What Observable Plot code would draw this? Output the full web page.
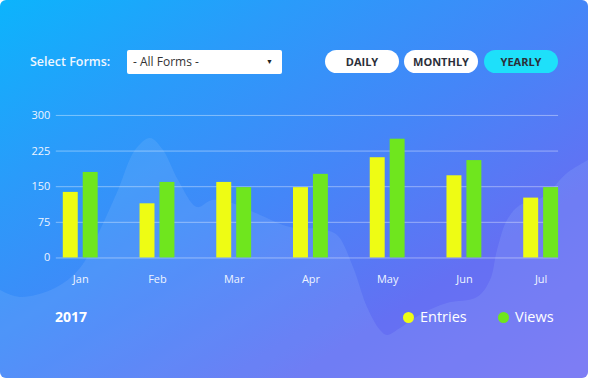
<!DOCTYPE html>
<html><head><meta charset="utf-8">
<script src="https://cdn.jsdelivr.net/npm/d3@7"></script>
<script src="https://cdn.jsdelivr.net/npm/@observablehq/plot@0.6"></script>
<style>
html,body{margin:0;padding:0;background:#fff;}
body{width:590px;height:381px;overflow:hidden;font-family:"Open Sans",sans-serif;}
#card{position:relative;width:588px;height:378px;border-radius:6px;overflow:hidden;
 background:linear-gradient(to bottom right,#0cb4fc 0%,#2a9bfa 25%,#4486f8 50%,#6470f3 75%,#7670f3 100%);}
#wave,#chart{position:absolute;left:0;}
#wave{top:0}
#chart{top:100px}
.abs{position:absolute;}
#selLabel{left:30px;top:53px;line-height:18px;font-size:12.5px;font-weight:600;color:#eef6ff;}
#dropdown{left:127px;top:50px;width:155px;height:24px;background:#fff;border-radius:2px;}
#dropdown span{position:absolute;left:6px;top:0;line-height:24px;font-size:12px;color:#333;}
#dropdown i{position:absolute;right:9px;top:0;line-height:24px;font-size:7px;font-style:normal;color:#222;}
.btn{top:50px;width:74px;height:23px;border-radius:12px;background:#fff;text-align:center;line-height:23px;font-size:11px;font-weight:700;color:#2b2f3a;}
#yearly{background:#1ee0fa;}
#year{left:55px;top:307px;font-size:14px;font-weight:700;color:#fff;line-height:20px;}
.leg{top:307px;line-height:20px;font-size:14.5px;color:#fff;}
.dot{display:inline-block;width:11px;height:11px;border-radius:50%;margin-right:6px;vertical-align:-1px;}
</style>
</head><body>
<div id="card">
 <div id="wave"></div>
 <div id="chart"></div>
 <div id="selLabel" class="abs">Select Forms:</div>
 <div id="dropdown" class="abs"><span>- All Forms -</span><i>▼</i></div>
 <div id="daily" class="abs btn" style="left:325px">DAILY</div>
 <div id="monthly" class="abs btn" style="left:404px">MONTHLY</div>
 <div id="yearly" class="abs btn" style="left:484px">YEARLY</div>
 <div id="year" class="abs">2017</div>
 <div id="legend"></div>
</div>
<script>
const months = ["Jan","Feb","Mar","Apr","May","Jun","Jul"];
const entries = [138,114,159,148,211,173,126];
const views = [180,159,148,176,250,205,148];
const yTicks = [0,75,150,225,300];
const seriesNames = ["Entries","Views"];
const seriesColors = ["#eefc14","#6fe61e"];

// decorative background wave (card pixel units)
const waveX = [0,20,55,80,100,118,135,150,163,178,197,212,232,260,290,320,337,353,367,380,387,400,423,447,477,490,497,507,520,543,567,588];
const waveY = [290,297,288,268,230,190,150,138,150,180,207,200,203,215,227,229,235,267,307,330,335,328,313,303,297,280,250,220,205,197,173,160];

const rows = months.map((m,i)=>({month:m, entries:entries[i], views:views[i]}));

const wave = Plot.plot({
  width:588, height:378, margin:0,
  style:{background:"transparent"},
  x:{domain:[0,588], range:[0,588], axis:null},
  y:{domain:[0,378], range:[0,378], axis:null},
  marks:[
    Plot.areaY(waveX,{x:d=>d, y1:378, y2:(d,i)=>waveY[i], curve:"catmull-rom", fill:"#b8dcff", fillOpacity:0.13})
  ]
});
document.getElementById("wave").append(wave);

const chart = Plot.plot({
  width:590, height:200, marginTop:15, marginBottom:42, marginLeft:56, marginRight:30,
  style:{background:"transparent", color:"#eef4ff", fontFamily:"Open Sans", fontSize:"11px"},
  x:{domain:months, range:[21,602], padding:42/77, label:null},
  y:{domain:[0,300], label:null},
  marks:[
    Plot.ruleY(yTicks,{stroke:"white", strokeOpacity:0.4}),
    Plot.barY(rows,{x:"month", y:"entries", fill:seriesColors[0], insetRight:20}),
    Plot.barY(rows,{x:"month", y:"views", fill:seriesColors[1], insetLeft:20}),
    Plot.axisX({tickSize:0, tickPadding:17, label:null, fontSize:11}),
    Plot.axisY(yTicks,{tickSize:0, tickPadding:6, label:null, fontSize:11})
  ]
});
document.getElementById("chart").append(chart);

const legendX = [403, 498];
const legend = document.getElementById("legend");
seriesNames.forEach((n,i)=>{
  const d = document.createElement("div");
  d.className = "abs leg";
  d.style.left = legendX[i] + "px";
  d.innerHTML = `<span class="dot" style="background:${seriesColors[i]}"></span>${n}`;
  legend.append(d);
});
</script>
</body></html>
